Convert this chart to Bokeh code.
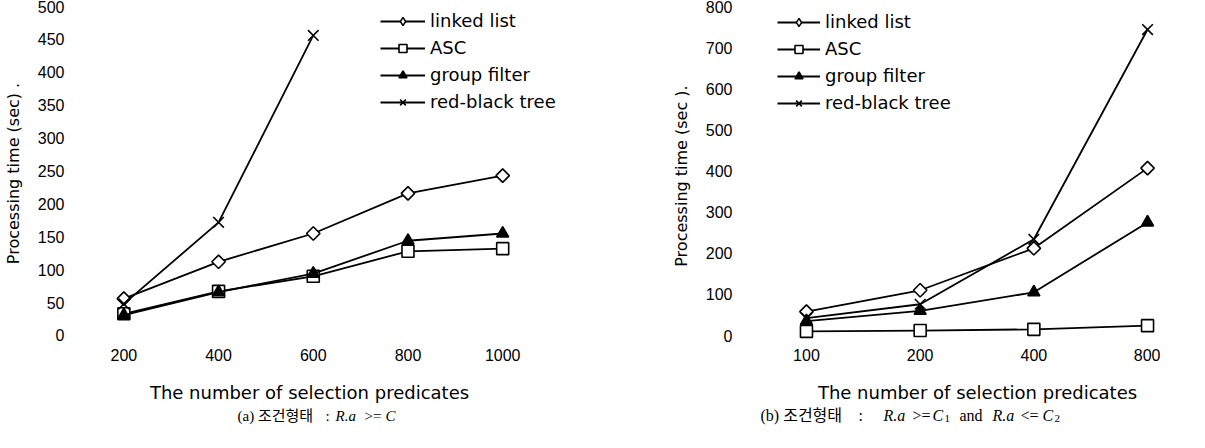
import math
from bokeh.plotting import figure
from bokeh.models import Range1d, FixedTicker, Legend, LegendItem, Label
from bokeh.layouts import row, column
from bokeh.embed import file_html
from bokeh.resources import INLINE

# ---------------- data ----------------
series_names = ["linked list", "ASC", "group filter", "red-black tree"]

# (a) R.a >= C
a_categories = ["200", "400", "600", "800", "1000"]
a_linked_list = [56, 112, 155, 216, 243]
a_asc = [33, 67, 90, 128, 132]
a_group_filter = [31, 66, 94, 144, 155]
a_red_black_categories = ["200", "400", "600"]
a_red_black = [48, 172, 456]
a_y_ticks = [0, 50, 100, 150, 200, 250, 300, 350, 400, 450, 500]

# (b) R.a >= C1 and R.a <= C2
b_categories = ["100", "200", "400", "800"]
b_linked_list = [58, 110, 212, 407]
b_asc = [10, 12, 15, 24]
b_group_filter = [35, 60, 105, 275]
b_red_black = [42, 76, 234, 744]
b_y_ticks = [0, 100, 200, 300, 400, 500, 600, 700, 800]

x_title = "The number of selection predicates"

TICK_FONT = "Liberation Sans"
TEXT_FONT = "DejaVu Sans"
SERIF = "Liberation Serif, Noto Sans CJK KR"
LSERIF = "Liberation Serif"

STYLES = [
    dict(marker="square", angle=math.pi / 4, size=9.5, fill_color="white", legend_marker="diamond"),
    dict(marker="square", angle=0.0, size=12, fill_color="white", legend_marker=None),
    dict(marker="triangle", angle=0.0, size=12, fill_color="black", legend_marker=None),
    dict(marker="x", angle=0.0, size=15, fill_color="black", legend_marker=None),
]


def make_fig(width, border_left, x_range, y_range, categories, y_ticks, ylabel):
    p = figure(width=width, height=368, output_backend="svg", toolbar_location=None,
               title=None,
               x_range=Range1d(*x_range), y_range=Range1d(*y_range),
               min_border_left=border_left, min_border_right=0,
               min_border_top=4, min_border_bottom=26)
    p.outline_line_color = None
    p.background_fill_color = "white"
    p.border_fill_color = "white"
    p.grid.visible = False
    p.xaxis.ticker = FixedTicker(ticks=list(range(len(categories))))
    p.xaxis.major_label_overrides = {i: c for i, c in enumerate(categories)}
    p.yaxis.ticker = FixedTicker(ticks=y_ticks)
    for ax in (p.xaxis[0], p.yaxis[0]):
        ax.axis_line_color = None
        ax.major_tick_line_color = None
        ax.minor_tick_line_color = None
        ax.major_tick_out = 0
        ax.major_tick_in = 0
        ax.major_label_text_font = TICK_FONT
        ax.major_label_text_font_size = "16px"
        ax.major_label_text_color = "black"
    p.xaxis.major_label_standoff = 6
    p.yaxis.major_label_standoff = 12
    p.yaxis.axis_label = ylabel
    p.yaxis.axis_label_text_font = TEXT_FONT
    p.yaxis.axis_label_text_font_size = "16px"
    p.yaxis.axis_label_text_font_style = "normal"
    p.yaxis.axis_label_text_color = "black"
    p.yaxis.axis_label_standoff = 12
    return p


def add_series(p, series_cats, values, style, index_of):
    xs = [index_of[c] for c in series_cats]
    ln = p.line(xs, values, line_color="black", line_width=1.8)
    sc = p.scatter(xs, values, marker=style["marker"], angle=style["angle"],
                   size=style["size"], line_color="black", line_width=1.6,
                   fill_color=style["fill_color"])
    if style["legend_marker"]:
        # hidden twin of the series, drawn only as the legend's glyph
        lg = p.scatter(xs, values, marker=style["legend_marker"], size=10,
                       line_color="black", line_width=1.4,
                       fill_color=style["fill_color"], visible=False)
        return [ln, lg]
    return [ln, sc]


def add_legend(p, rends, loc, glyph_width):
    items = [LegendItem(label=n, renderers=r) for n, r in zip(series_names, rends)]
    lg = Legend(items=items, location=loc, border_line_color=None,
                background_fill_alpha=0, padding=0, margin=0, spacing=6,
                glyph_width=glyph_width, glyph_height=20, label_height=20,
                label_standoff=5, label_text_font=TEXT_FONT,
                label_text_font_size="18px", label_text_color="black",
                inactive_fill_alpha=0)
    p.add_layout(lg)


def make_caption_fig(width):
    c = figure(width=width, height=60, output_backend="svg", toolbar_location=None,
               title=None,
               x_range=Range1d(0, 1), y_range=Range1d(0, 1),
               x_axis_location=None, y_axis_location=None,
               min_border=0, min_border_left=0, min_border_right=0,
               min_border_top=0, min_border_bottom=0)
    c.outline_line_color = None
    c.grid.visible = False
    c.background_fill_color = "white"
    c.border_fill_color = "white"
    return c


def add_text(p, x, y, text, font, size, style="normal", align="left"):
    p.add_layout(Label(x=x, y=y, x_units="screen", y_units="screen", text=text,
                       text_font=font, text_font_size=size, text_font_style=style,
                       text_align=align, text_baseline="alphabetic",
                       text_color="black"))


# ---------------- chart (a) ----------------
pa = make_fig(577, 69, (-0.5, 4.79), (-10.64, 503.04), a_categories, a_y_ticks,
              "Processing time (sec) .")
ia = {c: i for i, c in enumerate(a_categories)}
ra = [
    add_series(pa, a_categories, a_linked_list, STYLES[0], ia),
    add_series(pa, a_categories, a_asc, STYLES[1], ia),
    add_series(pa, a_categories, a_group_filter, STYLES[2], ia),
    add_series(pa, a_red_black_categories, a_red_black, STYLES[3], ia),
]
add_legend(pa, ra, (304, 230), 45)

TY = 36   # x-title baseline above the bottom of the caption strip
CY = 13   # caption baseline
SY = 10   # subscript baseline
ca = make_caption_fig(577)
add_text(ca, 309, TY, x_title, TEXT_FONT, "18px", align="center")
add_text(ca, 237, CY, "(a) 조건형태", SERIF, "15px")
add_text(ca, 325, CY, ":", SERIF, "15px")
add_text(ca, 335, CY, "R.a", LSERIF, "15px", "italic")
add_text(ca, 364, CY, ">=", LSERIF, "15px")
add_text(ca, 385, CY, "C", LSERIF, "15px", "italic")

# ---------------- chart (b) ----------------
pb = make_fig(583, 167, (-0.545, 3.114), (-17.02, 804.86), b_categories, b_y_ticks,
              "Processing  time (sec ).")
ib = {c: i for i, c in enumerate(b_categories)}
rb = [
    add_series(pb, b_categories, b_linked_list, STYLES[0], ib),
    add_series(pb, b_categories, b_asc, STYLES[1], ib),
    add_series(pb, b_categories, b_group_filter, STYLES[2], ib),
    add_series(pb, b_categories, b_red_black, STYLES[3], ib),
]
add_legend(pb, rb, (33, 229), 43)

cb = make_caption_fig(583)
add_text(cb, 400, TY, x_title, TEXT_FONT, "18px", align="center")
add_text(cb, 183, CY, "(b) 조건형태", SERIF, "16px")
add_text(cb, 281, CY, ":", SERIF, "16px")
add_text(cb, 306, CY, "R.a", LSERIF, "16px", "italic")
add_text(cb, 335, CY, ">=", LSERIF, "16px")
add_text(cb, 355, CY, "C", LSERIF, "16px", "italic")
add_text(cb, 367, SY, "1", LSERIF, "11px")
add_text(cb, 382, CY, "and", LSERIF, "16px")
add_text(cb, 415, CY, "R.a", LSERIF, "16px", "italic")
add_text(cb, 443, CY, "<=", LSERIF, "16px")
add_text(cb, 465, CY, "C", LSERIF, "16px", "italic")
add_text(cb, 477, SY, "2", LSERIF, "11px")

layout = column(row(pa, pb), row(ca, cb))
open("out.html", "w").write(file_html(layout, INLINE))
